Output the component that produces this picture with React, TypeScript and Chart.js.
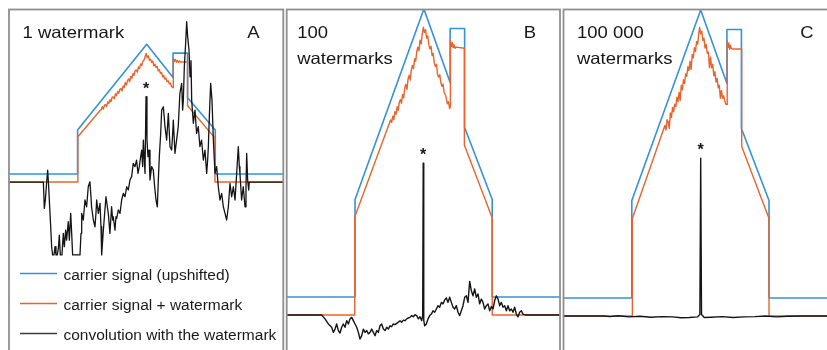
import React, { useEffect, useRef } from "react";
import { Chart, registerables } from "chart.js";

Chart.register(...registerables);

type Pt = [number, number];

// ---------- DATA ----------
// Carrier signal (upshifted), same shape in every panel (x: sample index 0..1000)
const carrierUpshifted: Pt[] = [
  [0, 6], [250, 6], [250, 38.5], [502, 102], [598, 77.5], [598, 95.5],
  [651, 95.5], [651, 62.5], [752, 38.5], [752, 6], [1000, 6],
];

// Carrier signal + watermark, per panel
const watermarkedA: Pt[] = [
  [0, 0], [251, 0], [251, 33.5], [332, 53.0], [336, 53.6], [340, 55.8], [344, 54.1], [348, 56.9],
  [352, 57.3], [356, 55.9], [360, 59.4], [364, 58.2], [368, 61.0], [372, 59.6], [376, 62.8],
  [380, 63.1], [384, 61.7], [388, 65.2], [392, 64.0], [396, 66.9], [400, 65.8], [404, 68.7],
  [408, 69.3], [412, 67.4], [416, 71.2], [420, 70.1], [424, 73.6], [428, 72.0], [432, 75.1],
  [436, 76.4], [440, 74.3], [444, 78.2], [448, 77.0], [452, 80.3], [456, 79.1], [460, 82.6],
  [464, 83.0], [468, 81.4], [472, 85.2], [476, 84.0], [480, 87.5], [484, 86.3], [488, 89.6],
  [492, 90.2], [496, 92.8], [500, 95.2], [504, 92.1], [508, 93.4], [512, 90.2], [516, 91.0],
  [520, 88.6], [524, 89.7], [528, 86.1], [532, 87.3], [536, 84.9], [540, 85.6], [544, 82.4],
  [548, 83.1], [552, 80.6], [556, 81.2], [560, 78.0], [564, 78.9], [568, 76.3], [572, 77.1],
  [576, 74.5], [580, 75.0], [584, 72.8], [588, 73.3], [592, 71.0], [596, 70.2], [599, 69.8],
  [599, 91.5], [602, 89.4], [606, 90.9], [610, 88.8], [614, 90.2], [618, 88.6], [622, 89.6],
  [626, 88.9], [651, 88.9], [651, 56.5], [751, 32.5], [751, 0], [1000, 0],
];

const watermarkedB: Pt[] = [
  [0, 0], [249, 0], [249, 32.7], [380, 65.0], [384, 64.2], [388, 66.3], [392, 65.1], [396, 67.8],
  [400, 66.9], [404, 69.4], [408, 68.2], [412, 70.9], [416, 71.8], [420, 70.6], [424, 73.5],
  [428, 72.4], [432, 75.8], [436, 76.9], [440, 75.2], [444, 78.6], [448, 79.9], [452, 78.3],
  [456, 81.7], [460, 83.2], [464, 82.1], [468, 85.4], [472, 84.6], [476, 87.9], [480, 89.3],
  [484, 88.1], [488, 91.6], [492, 90.4], [496, 93.8], [500, 95.9], [504, 94.2], [508, 95.1],
  [512, 92.3], [516, 93.0], [520, 90.1], [524, 88.7], [528, 89.6], [532, 86.4], [536, 87.2],
  [540, 84.1], [544, 82.8], [548, 83.5], [552, 80.2], [556, 79.3], [560, 80.1], [564, 77.4],
  [568, 76.2], [572, 77.0], [576, 74.1], [580, 73.5], [584, 72.2], [588, 70.4], [592, 71.1],
  [596, 68.8], [599, 69.4], [599, 91.7], [603, 89.5], [606, 90.8], [609, 89.2], [612, 90.1],
  [616, 88.9], [620, 89.3], [650, 88.9], [650, 56.7], [752, 32.3], [752, 0], [1000, 0],
];

const watermarkedC: Pt[] = [
  [0, 0], [252, 0], [252, 32.5], [371, 63.5], [375, 62.0], [379, 65.4], [383, 64.8], [387, 62.5],
  [391, 67.7], [395, 66.2], [399, 69.5], [403, 68.1], [407, 70.6], [411, 69.8], [415, 72.9],
  [419, 71.5], [423, 74.6], [427, 71.9], [431, 76.9], [435, 75.4], [439, 78.8], [443, 77.6],
  [447, 80.7], [451, 79.9], [455, 83.1], [459, 81.8], [463, 84.9], [467, 82.2], [471, 87.2],
  [475, 86.1], [479, 89.4], [483, 88.2], [487, 91.5], [491, 90.6], [495, 94.3], [498, 96.2],
  [502, 94.0], [506, 94.9], [510, 91.8], [514, 92.6], [518, 89.3], [522, 90.5], [526, 87.6],
  [530, 88.0], [534, 82.8], [538, 86.3], [542, 82.7], [546, 83.9], [550, 80.1], [554, 81.4],
  [558, 78.0], [562, 79.2], [566, 76.1], [570, 76.9], [574, 72.6], [578, 75.2], [582, 72.6],
  [586, 73.4], [590, 71.7], [594, 70.6], [599, 70.5], [599, 91.7], [602, 89.6], [605, 91.0],
  [608, 88.9], [611, 90.3], [614, 89.2], [617, 89.0], [652, 89.0], [652, 56.5], [752, 32.5],
  [752, 0], [1000, 0],
];

// Convolution with the watermark, per panel
const convolutionA: Pt[] = [
  [0, 0], [125.2, 0], [128.8, -19.5], [132.5, -13.3], [137.3, 0], [141, 8.9], [144.6, -3.5],
  [147, -13.3], [152, -33.1], [155.5, -47.9], [159, -54], [164, -54], [167.7, -47.9], [171.3, -54],
  [176, -54], [180, -49], [183.5, -39.3], [187, -54], [193, -54], [198, -38], [201.7, -47.9],
  [206.6, -35.6], [210, -43], [216, -29.4], [220, -43], [225, -23.2], [228.5, -38], [232, -54],
  [258.8, -54], [262.5, -38], [265, -23.2], [271, -28.1], [277, -13.3], [283, -18.3], [289, -3.5],
  [295, 0.2], [298.9, -10.9], [301, -18.3], [307.5, -28.1], [313.5, -33.1], [317, -23.2],
  [319.6, -13.3], [325.7, -23.2], [331.8, -15.8], [335.4, -33.1], [337.8, -54], [341.5, -43],
  [344, -35.6], [348.7, -23.2], [353.6, -10.9], [358.5, -18.3], [362, -23.2], [368, -38],
  [374, -18.3], [378, -28.1], [380, -25.7], [386.4, -35.6], [390, -25.7], [392.5, -26.9],
  [398.6, -20.7], [404.7, -23.2], [410.7, -13.3], [416.8, -8.4], [423, -10.9], [429, -3.5],
  [435, -5.9], [441, 1.5], [447, 4], [453, 13.8], [459.3, 11.4], [465, 16.3], [470.3, 6.4],
  [475, 11.4], [480, 18.8], [483.7, 23.7], [487.3, 11.4], [489.7, 31.1], [493.4, 16.3],
  [495.8, 6.4], [499.5, 63.2], [503, 31.1], [506.7, 18.8], [510.4, 23.7], [514, 1.5], [520, 11.4],
  [526, 8.9], [531, -3.5], [535.9, -13.3], [540.8, -18.3], [544.4, 1.5], [548, 18.8], [553, 36],
  [556.6, 53.3], [562.7, 55.8], [568.7, 41], [574.8, 31.1], [580.9, 50.9], [584.5, 36],
  [587, 26.2], [593, 23.7], [596.7, 36], [599, 45.9], [605, 21.2], [611, 31.1], [617, 41],
  [623, 65.7], [629.5, 73.1], [633, 53.3], [635.6, 60.7], [639.2, 85.4], [644, 102.7],
  [647.7, 118.8], [651.3, 107.7], [656.2, 97.8], [660, 78], [663.5, 90], [666, 60.7], [672, 43.5],
  [678, 53.3], [684, 36], [690, 41], [696, 26.2], [702, 31.1], [708.5, 16.3], [714.5, 23.7],
  [720.6, 6.4], [724.2, 16.3], [726.7, 26.2], [730.3, 48.4], [735.2, 73.1], [740, 60.7],
  [745, 31.1], [751, 6.4], [757, 11.4], [763, -3.5], [769, -13.3], [775.3, -8.4], [781.4, -18.3],
  [787.5, -23.2], [793.5, -28.1], [799.6, -18.3], [805.7, -1], [811.8, -10.9], [817.9, -3.5],
  [824, -13.3], [830, 6.4], [836, 26.2], [839.7, 11.4], [842, 6.4], [848, -13.3], [854, -3.5],
  [860.4, -18.3], [864, -3.5], [866.5, 21.2], [870, 1.5], [873.8, -5.9], [876, 0], [1000, 0],
];

const convolutionB: Pt[] = [
  [0, 0], [128, 0], [140.2, -1.3], [152.4, -3], [164.6, -4.1], [170.7, -5.8], [176.8, -4.7],
  [182.9, -3], [189, -5.2], [195.1, -6], [201.2, -4.1], [207.3, -3], [213.4, -4.1], [219.5, -1.9],
  [225.6, -3], [231.7, -1.3], [237.8, -0.8], [243.9, -1.9], [250, -3], [256.1, -4.1],
  [262.2, -5.8], [268.3, -8], [274.4, -6.9], [280.5, -4.7], [286.6, -5.8], [292.7, -5.2],
  [298.8, -6.3], [304.9, -5.8], [311, -4.7], [317.1, -5.8], [323.2, -6.9], [329.3, -5.2],
  [335.4, -5.8], [341.5, -3.6], [347.6, -3], [353.7, -4.7], [359.8, -5.2], [365.9, -4.1],
  [372, -4.7], [378, -3.6], [384.1, -3.9], [390.2, -3], [396.3, -3.2], [402.4, -2.8],
  [408.5, -2.4], [414.6, -1.9], [420.7, -2.4], [426.8, -1.7], [432.9, -1.9], [439, -1.3],
  [445.1, -1], [451.2, -0.8], [457.3, -0.2], [463.4, -0.6], [469.5, 0.1], [475.6, -0.2],
  [481.7, -1.3], [487.8, -0.6], [493.9, -1.9], [497.6, -0.2], [499.5, 50.6], [501.5, -1.9],
  [505, -3.6], [511, -3], [517.1, -1.3], [523.2, -0.2], [529.3, 0.3], [535.4, 1.4], [541.5, 0.9],
  [547.6, 2], [553.7, 3.1], [559.8, 2.6], [565.9, 4.2], [572, 3.7], [578, 5], [584.1, 5.7],
  [590.2, 4.2], [596.3, 5.9], [602.4, 4.2], [608.5, 2.6], [614.6, 2], [620.7, 3.1], [626.8, 0.9],
  [632.9, -0.2], [639, 1.4], [645.1, 3.1], [651.2, 5.9], [657.3, 6.4], [663.4, 4.2],
  [669.5, 11.2], [675.6, 8.1], [681.7, 6.4], [687.8, 8.7], [693.9, 5.9], [700, 7], [706.1, 3.7],
  [712.2, 5.3], [718.3, 4.2], [724.4, 2], [730.5, 3.1], [736.6, 3.7], [742.7, 1.4], [748.8, 2.8],
  [754.9, 2], [761, 4.8], [767.1, 6.4], [773.2, 5.3], [779.3, 3.1], [785.4, 4.2], [791.5, 2.6],
  [797.6, 3.1], [803.7, 1.4], [809.8, 3.1], [815.9, 1.4], [822, 2], [828, 0.9], [834.1, 2.6],
  [840.2, 0.3], [846.3, -0.6], [852.4, 0.9], [858.5, 1.4], [864.6, 0.3], [870.7, 0.1], [878, 0],
  [1000, 0],
];

const convolutionC: Pt[] = [
  [0, 0], [147, 0], [170, -0.2], [200, 0.1], [240, -0.3], [280, -0.1], [320, -0.4], [360, -0.2],
  [400, -0.3], [430, -0.6], [460, -0.5], [490, -0.3], [499, 0.5], [502, 52.6], [505, 0.5],
  [515, -0.5], [540, -0.4], [580, -0.2], [620, -0.5], [660, -0.3], [700, -0.2], [740, 0],
  [780, -0.3], [820, -0.1], [874, 0], [1000, 0],
];

const panelTitles = [["1 watermark"], ["100", "watermarks"], ["100 000", "watermarks"]];
const panelLetters = ["A", "B", "C"];
const legendLabels = [
  "carrier signal (upshifted)",
  "carrier signal + watermark",
  "convolution with the watermark",
];

// ---------- STYLE / LAYOUT ----------
const FONT = '"Liberation Sans", Arial, Helvetica, sans-serif';
const BLUE = "#3592d8";
const ORANGE = "#e8642c";
const BLACK = "#141414";
const LEGEND_COLORS = [BLUE, ORANGE, "#3a3a3a"];

interface PanelSpec {
  idx: number;
  watermarked: Pt[];
  convolution: Pt[];
  yMin: number;
  yMax: number;
  left: number;
  width: number;
  padLeft: number;
  padRight: number;
  titleDx: number;
  legend: boolean;
}

const PANELS: PanelSpec[] = [
  { idx: 0, watermarked: watermarkedA, convolution: convolutionA, yMin: -124.4, yMax: 127.8, left: 6, width: 280, padLeft: 3, padRight: 2.7, titleDx: 13.5, legend: true },
  { idx: 1, watermarked: watermarkedB, convolution: convolutionB, yMin: -11.67, yMax: 101.83, left: 284, width: 280, padLeft: 2.7, padRight: 4, titleDx: 10.5, legend: false },
  { idx: 2, watermarked: watermarkedC, convolution: convolutionC, yMin: -11.33, yMax: 102.17, left: 560, width: 280, padLeft: 3.5, padRight: 3.2, titleDx: 13.5, legend: false },
];

const toXY = (pts: Pt[]) => pts.map(([x, y]) => ({ x, y }));

function findPeak(conv: Pt[]): Pt {
  let best: Pt = conv[0];
  for (const p of conv) if (p[0] > 490 && p[0] < 510 && p[1] > best[1]) best = p;
  return best;
}

function Panel({ spec }: { spec: PanelSpec }) {
  const ref = useRef<HTMLCanvasElement | null>(null);
  useEffect(() => {
    if (!ref.current) return;
    const peak = findPeak(spec.convolution);
    const decor = {
      id: "decor" + spec.idx,
      afterDatasetsDraw(chart: any) {
        const { ctx, chartArea: ca, scales } = chart;
        ctx.save();
        // frame
        ctx.strokeStyle = "#8f8f8f";
        ctx.lineWidth = 1.8;
        ctx.strokeRect(ca.left, ca.top, ca.right - ca.left, ca.bottom - ca.top + 30);
        // titles
        ctx.fillStyle = "#161616";
        ctx.textBaseline = "alphabetic";
        ctx.font = `16.5px ${FONT}`;
        panelTitles[spec.idx].forEach((line, i) => {
          ctx.save();
          ctx.translate(ca.left + spec.titleDx, ca.top + 28.5 + i * 25.5);
          ctx.scale(1.12, 1);
          ctx.textAlign = "left";
          ctx.fillText(line, 0, 0);
          ctx.restore();
        });
        ctx.save();
        ctx.translate(ca.right - 30, ca.top + 28.5);
        ctx.scale(1.12, 1);
        ctx.textAlign = "center";
        ctx.fillText(panelLetters[spec.idx], 0, 0);
        ctx.restore();
        // asterisk over the watermark peak
        const px = scales.x.getPixelForValue(peak[0]);
        const py = scales.y.getPixelForValue(peak[1]);
        ctx.font = `bold 16px ${FONT}`;
        ctx.textAlign = "center";
        ctx.fillText("*", px, py - 3);
        // legend
        if (spec.legend) {
          ctx.font = `15.5px ${FONT}`;
          ctx.textAlign = "left";
          legendLabels.forEach((label, i) => {
            const y = ca.top + 264 + i * 30;
            ctx.strokeStyle = LEGEND_COLORS[i];
            ctx.lineWidth = 1.6;
            ctx.beginPath();
            ctx.moveTo(ca.left + 11, y);
            ctx.lineTo(ca.left + 48, y);
            ctx.stroke();
            ctx.fillStyle = "#1a1a1a";
            ctx.fillText(label, ca.left + 54.5, y + 6.5);
          });
        }
        ctx.restore();
      },
    };
    const chart = new Chart(ref.current, {
      type: "line",
      data: {
        datasets: [
          { label: legendLabels[2], data: toXY(spec.convolution), borderColor: BLACK, borderWidth: spec.idx === 0 ? 1.3 : 1.4, order: 0 },
          { label: legendLabels[1], data: toXY(spec.watermarked), borderColor: ORANGE, borderWidth: 1.4, order: 1 },
          { label: legendLabels[0], data: toXY(carrierUpshifted), borderColor: BLUE, borderWidth: 1.6, order: 2 },
        ].map((d) => ({ ...d, pointRadius: 0, tension: 0, fill: false, borderJoinStyle: "round" as const })),
      },
      options: {
        animation: false,
        responsive: false,
        events: [],
        layout: { padding: { left: spec.padLeft, right: spec.padRight, top: 9.5, bottom: 0 } },
        plugins: { legend: { display: false }, tooltip: { enabled: false } },
        scales: {
          x: { type: "linear", min: 0, max: 1000, display: false },
          y: { type: "linear", min: spec.yMin, max: spec.yMax, display: false },
        },
      },
      plugins: [decor],
    });
    return () => chart.destroy();
  }, [spec]);
  return (
    <div style={{ position: "absolute", left: spec.left, top: 0, width: spec.width, height: 350 }}>
      <canvas ref={ref} width={spec.width} height={350} style={{ display: "block", width: spec.width, height: 350 }} />
    </div>
  );
}

export default function App() {
  return (
    <div style={{ position: "fixed", left: 0, top: 0, width: 827, height: 350, overflow: "hidden", background: "#fff" }}>
      {PANELS.map((p) => (
        <Panel key={p.idx} spec={p} />
      ))}
    </div>
  );
}
